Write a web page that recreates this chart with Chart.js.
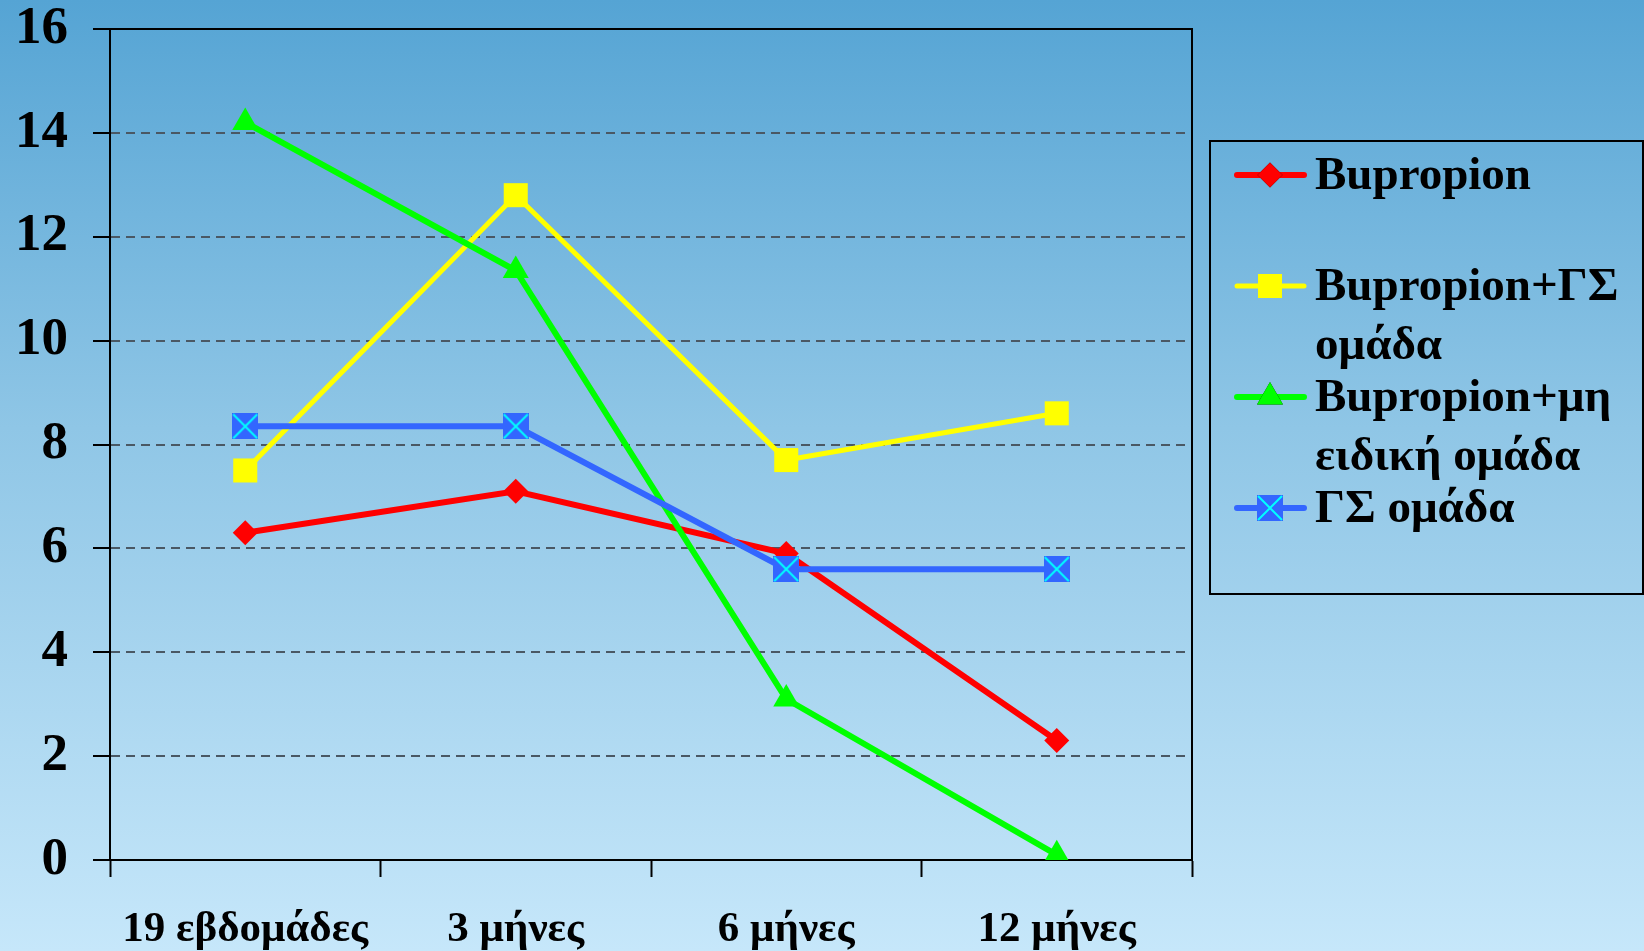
<!DOCTYPE html>
<html>
<head>
<meta charset="utf-8">
<script src="https://cdn.jsdelivr.net/npm/chart.js@4.4.1/dist/chart.umd.min.js"></script>
<style>
    html, body { margin: 0; padding: 0; }
    body {
        width: 1644px;
        height: 951px;
        overflow: hidden;
        background: linear-gradient(to bottom, #55a4d4 0%, #8fc6e6 45%, #c6e7fa 100%);
    }
    canvas { display: block; }
</style>
</head>
<body>
<canvas id="chart" width="1644" height="951"></canvas>
<script>
// data
const categories = ['19 εβδομάδες', '3 μήνες', '6 μήνες', '12 μήνες'];
const bupropion = [6.3, 7.1, 5.9, 2.3];
const bupropionGS = [7.5, 12.8, 7.7, 8.6];
const bupropionNonSpecific = [14.2, 11.35, 3.1, 0.1];
const gsGroup = [8.35, 8.35, 5.6, 5.6];
const legendLabels = [
    ['Bupropion'],
    ['Bupropion+ΓΣ', 'ομάδα'],
    ['Bupropion+μη', 'ειδική ομάδα'],
    ['ΓΣ ομάδα']
];
const yMin = 0;
const yMax = 16;
const yStep = 2;

const serif = "'Liberation Serif', 'Times New Roman', serif";

// blue square with a cyan cross, used as the marker of the last series
const makeCrossBox = (size) => {
    const c = document.createElement('canvas');
    c.width = size;
    c.height = size;
    const g = c.getContext('2d');
    g.fillStyle = '#3366ff';
    g.fillRect(0, 0, size, size);
    g.strokeStyle = '#00ffff';
    g.lineWidth = 2;
    g.beginPath();
    g.moveTo(1, 1); g.lineTo(size - 1, size - 1);
    g.moveTo(size - 1, 1); g.lineTo(1, size - 1);
    g.stroke();
    return c;
};
const crossBox = makeCrossBox(26);

const frameAndLegend = {
    id: 'frameAndLegend',
    afterDatasetsDraw(chart) {
        const { ctx, chartArea } = chart;
        ctx.save();
        ctx.strokeStyle = '#000';
        ctx.lineWidth = 2;
        ctx.beginPath();
        ctx.moveTo(chartArea.left - 17, chartArea.top);
        ctx.lineTo(chartArea.right, chartArea.top);
        ctx.lineTo(chartArea.right, chartArea.bottom);
        ctx.stroke();
        ctx.restore();
    },
    afterDraw(chart) {
        const ctx = chart.ctx;
        const box = { x: 1210, y: 141, w: 433, h: 453 };
        ctx.save();
        ctx.strokeStyle = '#000';
        ctx.lineWidth = 2;
        ctx.strokeRect(box.x, box.y, box.w, box.h);

        ctx.font = 'bold 47px ' + serif;
        ctx.fillStyle = '#000';
        ctx.textBaseline = 'middle';
        ctx.textAlign = 'left';

        chart.data.datasets.forEach((ds, i) => {
            const y = 175 + i * 111;
            ctx.strokeStyle = ds.borderColor;
            ctx.lineWidth = ds.borderWidth;
            ctx.lineCap = 'round';
            ctx.beginPath();
            ctx.moveTo(1237, y);
            ctx.lineTo(1304, y);
            ctx.stroke();
            Chart.helpers.drawPoint(ctx, {
                pointStyle: ds.pointStyle,
                radius: ds.pointRadius,
                rotation: 0,
                borderWidth: 0
            }, 1270, y);
            ctx.fillStyle = ds.pointBackgroundColor;
            if (typeof ds.pointStyle === 'string') ctx.fill();
            ctx.fillStyle = '#000';
            legendLabels[i].forEach((line, k) => {
                ctx.fillText(line, 1315, y + 2 + k * 59);
            });
        });
        ctx.restore();
    }
};

const makeSeries = (data, color, style, radius, width, order) => ({
    data: data,
    borderColor: color,
    backgroundColor: color,
    pointBackgroundColor: color,
    pointBorderColor: color,
    pointBorderWidth: 0,
    borderWidth: width,
    pointStyle: style,
    pointRadius: radius,
    pointHoverRadius: radius,
    tension: 0,
    fill: false,
    order: order
});

new Chart(document.getElementById('chart').getContext('2d'), {
    type: 'line',
    data: {
        labels: categories,
        datasets: [
            makeSeries(bupropion, '#ff0000', 'rectRot', 12.5, 6, 4),
            makeSeries(bupropionGS, '#ffff00', 'rect', 17, 5, 3),
            makeSeries(bupropionNonSpecific, '#00ff00', 'triangle', 15, 6, 2),
            makeSeries(gsGroup, '#3366ff', crossBox, 13, 6, 1)
        ]
    },
    options: {
        responsive: false,
        animation: false,
        layout: { padding: { left: 0, top: 29, right: 452, bottom: 0 } },
        plugins: {
            legend: { display: false },
            tooltip: { enabled: false }
        },
        scales: {
            x: {
                offset: true,
                grid: {
                    offset: true,
                    drawOnChartArea: false,
                    drawTicks: true,
                    tickLength: 17,
                    tickColor: '#000',
                    tickWidth: 2
                },
                border: { display: true, color: '#000', width: 2 },
                ticks: {
                    color: '#000',
                    padding: 27,
                    maxRotation: 0,
                    autoSkip: false,
                    font: { family: serif, weight: 'bold', size: 43 }
                },
                afterFit: (scale) => { scale.height = 91; }
            },
            y: {
                min: yMin,
                max: yMax,
                grid: {
                    color: (c) => (c.tick && (c.tick.value === yMin || c.tick.value === yMax)) ? 'rgba(0,0,0,0)' : '#4a5864',
                    lineWidth: 2,
                    drawTicks: true,
                    tickLength: 17,
                    tickColor: '#000',
                    tickWidth: 2
                },
                border: { display: true, color: '#000', width: 2, dash: [9, 6] },
                ticks: {
                    stepSize: yStep,
                    color: '#000',
                    padding: 25,
                    font: { family: serif, weight: 'bold', size: 53, lineHeight: 1.1 }
                },
                afterFit: (scale) => {
                    scale.width = 110;
                    scale.paddingTop = 0;
                    scale.paddingBottom = 0;
                }
            }
        }
    },
    plugins: [frameAndLegend]
});
</script>
</body>
</html>
